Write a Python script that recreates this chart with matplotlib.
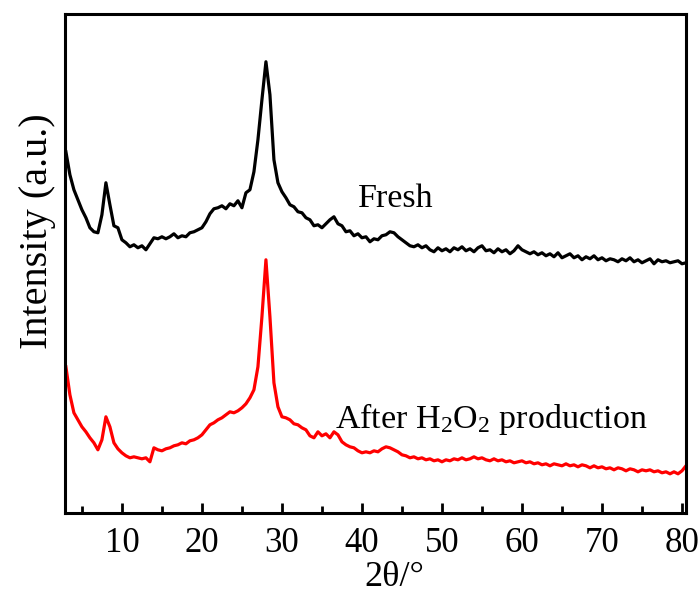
import numpy as np
import matplotlib.pyplot as plt

# 2theta sampling grid (degrees)
two_theta = np.arange(3.0, 80.51, 0.5)

# readings taken from the plot, measured downward from a reference line
fresh_read = [
    152, 175, 190, 200, 210, 218, 228, 232, 233, 215,
    183, 205, 226, 228, 240, 243, 247, 245, 248, 246,
    250, 244, 238, 239, 237, 239, 237, 234, 238, 236,
    237, 233, 232, 230, 228, 222, 214, 209, 208, 206,
    209, 204, 206, 201, 208, 193, 190, 172, 140, 100,
    62, 95, 160, 183, 192, 198, 205, 207, 212, 213,
    218, 220, 226, 225, 228, 224, 220, 217, 224, 226,
    232, 231, 236, 234, 238, 237, 242, 239, 240, 236,
    235, 232, 233, 237, 240, 243, 246, 247, 245, 248,
    246, 250, 252, 248, 251, 249, 252, 248, 250, 247,
    251, 249, 252, 248, 246, 251, 250, 253, 249, 252,
    250, 254, 251, 246, 250, 252, 254, 252, 255, 253,
    256, 254, 257, 253, 258, 256, 254, 258, 256, 260,
    257, 259, 256, 260, 258, 261, 259, 260, 262, 259,
    261, 258, 262, 260, 263, 261, 259, 264, 260, 262,
    261, 263, 262, 261, 264, 263,
]

after_read = [
    367, 395, 413, 420, 427, 432, 438, 443, 450, 440,
    417, 427, 443, 449, 453, 456, 458, 457, 458, 459,
    458, 462, 448, 450, 451, 449, 448, 446, 445, 443,
    444, 441, 440, 438, 435, 430, 425, 423, 420, 418,
    415, 412, 413, 411, 408, 404, 398, 390, 367, 317,
    260, 317, 383, 407, 417, 418, 420, 424, 425, 428,
    430, 436, 438, 432, 436, 434, 438, 432, 435, 442,
    445, 447, 448, 451, 453, 452, 453, 451, 452, 449,
    447, 448, 450, 452, 455, 456, 458, 457, 459, 458,
    460, 459, 461, 460, 462, 460, 461, 459, 460, 458,
    460, 459, 457, 459, 458, 460, 461, 459, 461, 460,
    462, 461, 463, 462, 461, 463, 462, 464, 463, 465,
    464, 466, 464, 465, 466, 464, 466, 465, 467, 465,
    466, 468, 466, 468, 467, 469, 468, 470, 468, 469,
    471, 469, 470, 472, 470, 471, 470, 472, 471, 473,
    472, 474, 472, 474, 471, 466,
]

# convertir a intensidad (a.u.)
fresh = 530 - np.array(fresh_read)
after = 530 - np.array(after_read)

plt.rcParams['font.family'] = ['Liberation Serif', 'DejaVu Serif']
plt.rcParams['mathtext.fontset'] = 'custom'
plt.rcParams['mathtext.rm'] = 'Liberation Serif'
plt.rcParams['mathtext.it'] = 'Liberation Serif:italic'

fig = plt.figure(figsize=(7, 5.97), dpi=100)
ax = fig.add_axes([0.093, 0.141, 0.887, 0.836])

ax.plot(two_theta, fresh, color='black', lw=2.3)
ax.plot(two_theta, after, color='red', lw=2.3)

ax.text(39.5, 323, 'Fresh', fontsize=24.5, ha='left', va='baseline')
ax.text(36.6, 102, 'After H$_2$O$_2$ production', fontsize=24.5, ha='left', va='baseline')

ax.set_xlim(2.9, 80.5)
ax.set_ylim(17, 516)
ax.set_xticks(range(10, 81, 10))
ax.set_xticks(range(5, 81, 10), minor=True)
ax.set_yticks([])
ax.tick_params(axis='x', which='major', direction='in', length=7, width=2, labelsize=25, pad=10)
ax.tick_params(axis='x', which='minor', direction='in', length=5, width=2)
for sp in ax.spines.values():
    sp.set_linewidth(2.2)

ax.set_xlabel('2θ/°', fontsize=26)
ax.xaxis.set_label_coords(0.53, -0.097)
ax.set_ylabel('Intensity (a.u.)', fontsize=29)
ax.yaxis.set_label_coords(-0.015, 0.565)

fig.savefig('out.png', dpi=100)
